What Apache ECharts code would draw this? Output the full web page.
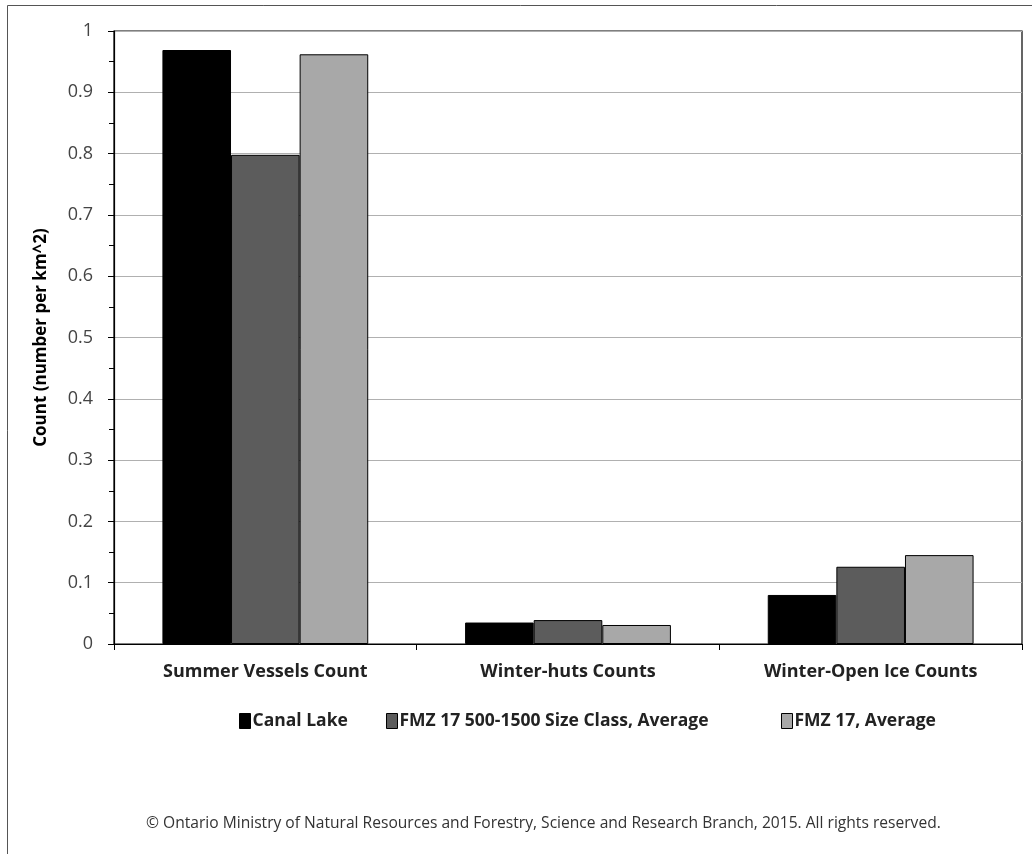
<!DOCTYPE html>
<html>
<head>
<meta charset="utf-8">
<script src="https://cdn.jsdelivr.net/npm/echarts@6/dist/echarts.min.js"></script>
<style>
html,body{margin:0;padding:0;background:#fff;}
#c{width:1032px;height:854px;}
</style>
</head>
<body>
<div id="c"></div>
<script>
var categories = ['Summer Vessels Count', 'Winter-huts Counts', 'Winter-Open Ice Counts'];
var seriesNames = ['Canal Lake', 'FMZ 17 500-1500 Size Class, Average', 'FMZ 17, Average'];
var canalLake = [0.969, 0.035, 0.080];
var fmz17SizeClass = [0.798, 0.039, 0.126];
var fmz17Average = [0.962, 0.031, 0.145];
var yTicks = [0, 0.1, 0.2, 0.3, 0.4, 0.5, 0.6, 0.7, 0.8, 0.9, 1];
var colors = ['#000000', '#5c5c5c', '#a8a8a8'];
var footer = '\u00A9 Ontario Ministry of Natural Resources and Forestry, Science and Research Branch, 2015. All rights reserved.';

var font = 'Open Sans';
var chart = echarts.init(document.getElementById('c'), null, {renderer: 'canvas'});
var data = [canalLake, fmz17SizeClass, fmz17Average];
var series = seriesNames.map(function (n, i) {
  return {
    name: n,
    type: 'bar',
    data: data[i],
    barGap: '0%',
    barCategoryGap: '32%',
    itemStyle: {color: colors[i], borderColor: '#000', borderWidth: 1}
  };
});
var legendLefts = [234, 381, 776];
var legends = seriesNames.map(function (n, i) {
  return {
    data: [n],
    top: 707,
    left: legendLefts[i],
    itemWidth: 11,
    itemHeight: 15,
    icon: 'rect',
    textStyle: {fontFamily: font, fontSize: 17.5, fontWeight: 'bold', color: '#222', padding: [0, 0, 0, -3]},
    itemStyle: {borderColor: '#000', borderWidth: 1}
  };
});
chart.setOption({
  backgroundColor: '#fff',
  animation: false,
  color: colors,
  grid: {left: 114, right: 10, top: 31, bottom: 210, show: true, borderColor: '#000', borderWidth: 1.2, backgroundColor: 'transparent'},
  legend: legends,
  xAxis: {
    type: 'category',
    data: categories,
    axisLine: {lineStyle: {color: '#000', width: 1.2}},
    axisTick: {show: true, length: 6, lineStyle: {color: '#000'}},
    axisLabel: {fontFamily: font, fontSize: 18, fontWeight: 'bold', color: '#222', margin: 19}
  },
  yAxis: {
    type: 'value',
    min: 0,
    max: 1,
    interval: 0.1,
    name: 'Count (number per km^2)',
    nameLocation: 'middle',
    nameGap: 64,
    nameTextStyle: {fontFamily: font, fontSize: 17, fontWeight: 'bold', color: '#000'},
    axisLine: {show: true, lineStyle: {color: '#000', width: 1.2}},
    axisTick: {show: true, length: 6, lineStyle: {color: '#000'}},
    minorTick: {show: true, splitNumber: 2, length: 5, lineStyle: {color: '#000'}},
    axisLabel: {
      fontFamily: font, fontSize: 18, color: '#444', margin: 21,
      formatter: function (v) {
        for (var i = 0; i < yTicks.length; i++) {
          if (Math.abs(yTicks[i] - v) < 1e-9) return String(yTicks[i]);
        }
        return '';
      }
    },
    splitLine: {show: true, lineStyle: {color: '#b0b0b0', width: 1}}
  },
  graphic: [
    {type: 'rect', shape: {x: 7.5, y: 5.5, width: 1030, height: 860}, style: {fill: 'none', stroke: '#555', lineWidth: 1}, silent: true},
    {type: 'text', left: 146, top: 816, style: {text: footer, fontFamily: font, fontSize: 15.6, fill: '#333'}}
  ],
  series: series
});
</script>
</body>
</html>
